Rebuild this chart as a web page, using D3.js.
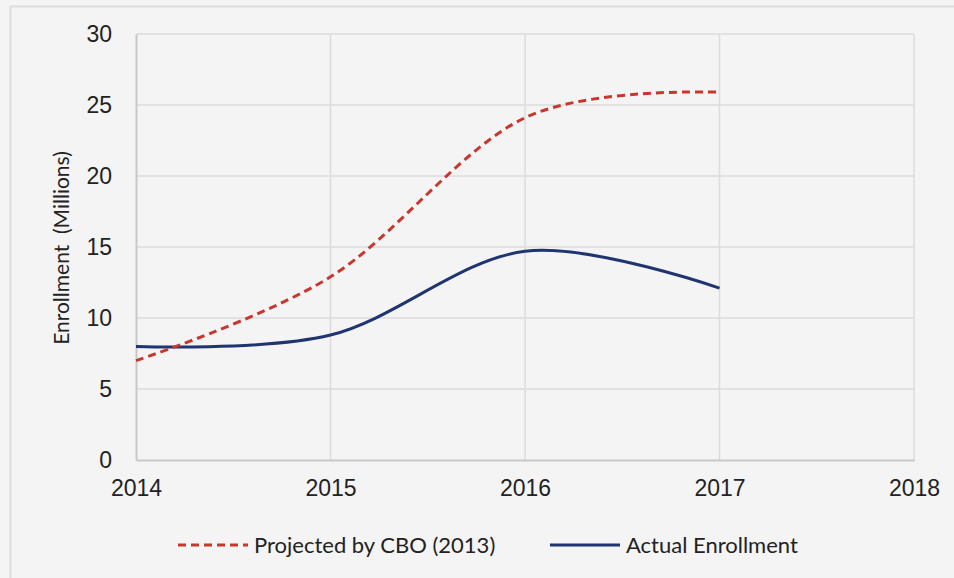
<!DOCTYPE html>
<meta charset="utf-8">
<style>
  body { margin: 0; background: #f4f4f4; }
  svg { display: block; font-family: "Lato", "Open Sans", sans-serif; }
</style>
<body>
<script src="https://d3js.org/d3.v7.min.js"></script>
<script>

// data
var years = [2014, 2015, 2016, 2017];
var projected = [7.0, 12.9, 24.1, 25.9];   // Projected by CBO (2013)
var actual = [8.0, 8.8, 14.7, 12.1];       // Actual Enrollment
var xTicks = [2014, 2015, 2016, 2017, 2018];
var yTicks = [0, 5, 10, 15, 20, 25, 30];
var seriesNames = ["Projected by CBO (2013)", "Actual Enrollment"];

var W = 954, H = 578;
var margin = {top: 34, right: 40, bottom: 118, left: 136};
var width = 914 - margin.left,
    height = 460 - margin.top;

var svg = d3.select("body").append("svg")
  .attr("width", W)
  .attr("height", H);

// panel background + thin frame
svg.append("rect")
  .attr("x", 0).attr("y", 0).attr("width", W).attr("height", H)
  .attr("fill", "#f4f4f4");
svg.append("path")
  .attr("d", "M10.5," + H + "V6.5H" + W)
  .attr("fill", "none")
  .attr("stroke", "#dcdcdc")
  .attr("stroke-width", 2);

var g = svg.append("g")
  .attr("transform", "translate(" + margin.left + "," + margin.top + ")");

var x = d3.scaleLinear().domain([2014, 2018]).range([0, width]);
var y = d3.scaleLinear().domain([0, 30]).range([height, 0]);

// gridlines
g.append("g")
  .selectAll("line.hgrid")
  .data(yTicks.filter(function(d){ return d > 0; }))
  .enter().append("line")
    .attr("x1", 0).attr("x2", width)
    .attr("y1", function(d){ return y(d); })
    .attr("y2", function(d){ return y(d); })
    .attr("stroke", "#dcdcdc")
    .attr("stroke-width", 1.5);

g.append("g")
  .selectAll("line.vgrid")
  .data(xTicks.filter(function(d){ return d > 2014; }))
  .enter().append("line")
    .attr("y1", 0).attr("y2", height)
    .attr("x1", function(d){ return x(d); })
    .attr("x2", function(d){ return x(d); })
    .attr("stroke", "#dcdcdc")
    .attr("stroke-width", 1.5);

// axes
var yAxis = g.append("g")
  .call(d3.axisLeft(y).tickValues(yTicks).tickSize(0).tickPadding(24));
var xAxis = g.append("g")
  .attr("transform", "translate(0," + height + ")")
  .call(d3.axisBottom(x).tickValues(xTicks).tickSize(0).tickPadding(20).tickFormat(d3.format("d")));

[xAxis, yAxis].forEach(function(a){
  a.select(".domain").attr("stroke", "#c8c8c8").attr("stroke-width", 2);
  a.selectAll("text").attr("fill", "#222").style("font-size", "23px");
});

// axis title
svg.append("text")
  .attr("transform", "translate(62,248) rotate(-90)")
  .attr("text-anchor", "middle")
  .attr("dy", "0.35em")
  .attr("fill", "#222")
  .style("font-size", "21px")
  .attr("xml:space", "preserve")
  .text("Enrollment  (Millions)");

// lines
var line = d3.line()
  .x(function(d){ return x(d.year); })
  .y(function(d){ return y(d.value); })
  .curve(d3.curveCardinal.tension(0));

var toPoints = function(vals){
  return years.map(function(yr, i){ return {year: yr, value: vals[i]}; });
};

g.append("path")
  .attr("d", line(toPoints(actual)))
  .attr("fill", "none")
  .attr("stroke", "#1f3470")
  .attr("stroke-width", 3);

g.append("path")
  .attr("d", line(toPoints(projected)))
  .attr("fill", "none")
  .attr("stroke", "#c8372d")
  .attr("stroke-width", 3)
  .attr("stroke-dasharray", "8,5");

// legend
var legend = [
  {name: seriesNames[0], color: "#c8372d", dash: "8,5", x: 178},
  {name: seriesNames[1], color: "#1f3470", dash: null, x: 550}
];
var lg = svg.selectAll("g.legend")
  .data(legend)
  .enter().append("g")
    .attr("transform", function(d){ return "translate(" + d.x + ",545)"; });
lg.append("line")
  .attr("x1", 0).attr("x2", 70)
  .attr("stroke", function(d){ return d.color; })
  .attr("stroke-width", 3)
  .attr("stroke-dasharray", function(d){ return d.dash; });
lg.append("text")
  .attr("x", 76)
  .attr("dy", "0.35em")
  .attr("fill", "#222")
  .style("font-size", "22px")
  .text(function(d){ return d.name; });

</script>
</body>
